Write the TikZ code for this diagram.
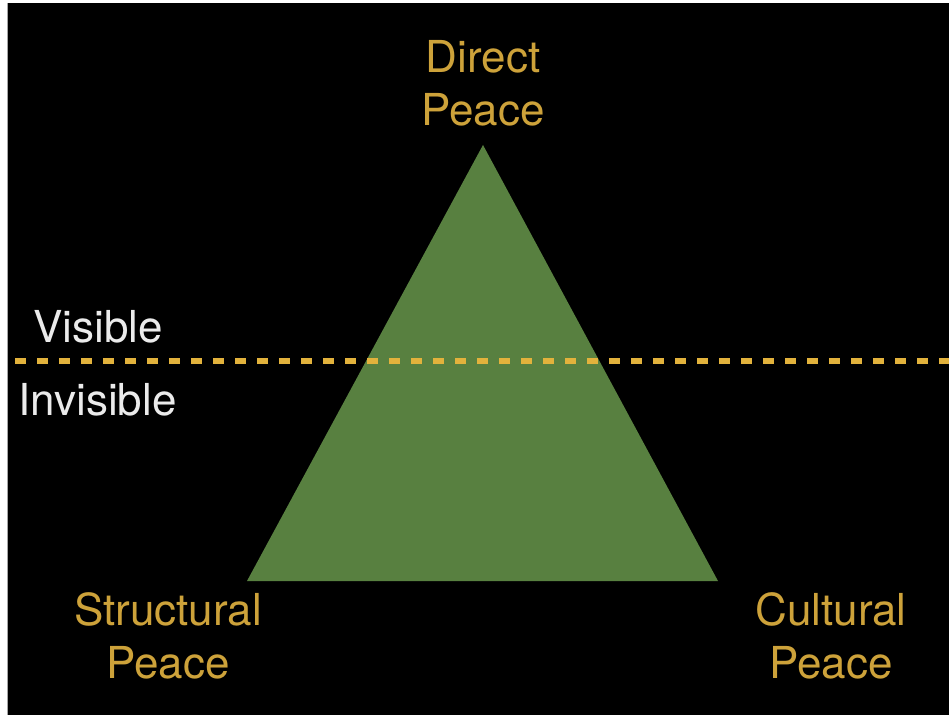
\documentclass[tikz,border=0pt]{standalone}
\usepackage{fontspec}
\setmainfont{TeX Gyre Heros}
\usetikzlibrary{positioning}
\definecolor{peacegold}{RGB}{205,162,58}
\definecolor{linegold}{RGB}{226,178,60}
\definecolor{peacegreen}{RGB}{88,128,64}
\definecolor{labelwhite}{RGB}{235,235,235}
\tikzset{
    corner/.style={text=peacegold,align=center,inner sep=0pt,anchor=north,
        font=\fontsize{31.3}{37.7}\selectfont},
    layer/.style={text=labelwhite,inner sep=0pt,anchor=base west,
        font=\fontsize{31.3}{37.7}\selectfont},
    divide/.style={draw=linegold,line width=3.6pt,dash pattern=on 0.28cm off 0.27cm},
}

\begin{document}
\begin{tikzpicture}[x=0.025cm,y=-0.025cm]
\useasboundingbox (0,0) rectangle (949,715);
\fill[white] (0,0) rectangle (949,715);
\fill[black] (7.5,3.5) rectangle (949,715);
\draw[gray!70,line width=0.4pt] (7.5,3.5) -- (7.5,715);
% triangle
\coordinate (apex) at (483,145);
\coordinate (left) at (247,581);
\coordinate (right) at (718,581);
\fill[peacegreen] (apex) -- (right) -- (left) -- cycle;
% visible / invisible line
\coordinate (lstart) at (15,361);
\coordinate (lend) at (949,361);
\draw[divide] (lstart) -- (lend);
\node[layer] (visible) at (33,343) {Visible};
\node[layer] (invisible) at (18,416) {Invisible};
% corners
\node[corner] (direct) at (483,40) {Direct\\Peace};
\node[corner] (structural) at (168,592) {Structural\\Peace};
\node[corner] (cultural) at (831,592) {Cultural\\Peace};
\end{tikzpicture}
\end{document}
